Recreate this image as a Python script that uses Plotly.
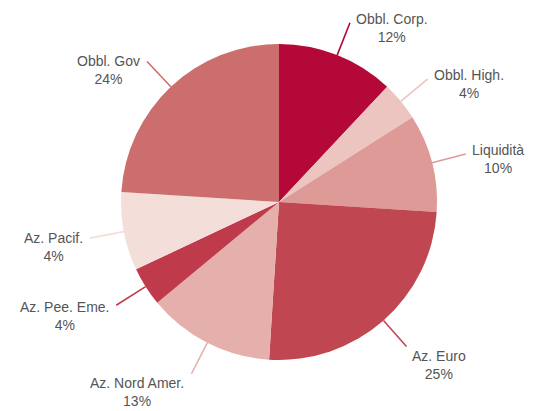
import math
import plotly.graph_objects as go

labels = ["Obbl. Corp.", "Obbl. High.", "Liquidità", "Az. Euro", "Az. Nord Amer.",
          "Az. Pee. Eme.", "Az. Pacif.", "Obbl. Gov"]
values = [12, 4, 10, 25, 13, 4, 8, 24]
pct_text = ["12%", "4%", "10%", "25%", "13%", "4%", "4%", "24%"]
colors = ["#B30838", "#ECC5C0", "#DE9A96", "#C04652", "#E5B0AC",
          "#BF3B4C", "#F4DEDA", "#CC6E6E"]

W, H = 533, 411
CX, CY, R = 279, 202, 158


def ent(s):
    return "".join(ch if ord(ch) < 128 else f"&#{ord(ch)};" for ch in s)


fig = go.Figure(go.Pie(
    labels=labels, values=values, sort=False, direction="clockwise", rotation=0,
    marker=dict(colors=colors, line=dict(width=0)),
    textinfo="none", hoverinfo="label+percent",
    domain=dict(x=[(CX - R) / W, (CX + R) / W], y=[(H - CY - R) / H, (H - CY + R) / H]),
    showlegend=False,
))

total = sum(values)
cum = 0
shapes, annotations = [], []
for lab, v, t, c in zip(labels, values, pct_text, colors):
    mid = (cum + v / 2) / total * 2 * math.pi
    cum += v
    s, co = math.sin(mid), math.cos(mid)
    x0, y0 = CX + R * s, CY - R * co
    x1, y1 = CX + R * 1.22 * s, CY - R * 1.22 * co
    shapes.append(dict(type="line", xref="paper", yref="paper",
                       x0=x0 / W, y0=1 - y0 / H, x1=x1 / W, y1=1 - y1 / H,
                       line=dict(color=c, width=1.6)))
    off = -4 + 13.5 * min(1.0, max(0.0, (-co - 0.5) / 0.25))
    if s < 0 and co > -0.7:
        off += 4
    top = y1 + off - 10
    annotations.append(dict(
        xref="paper", yref="paper", x=x1 / W, y=1 - top / H,
        text=f"{ent(lab)}<br>{t}", showarrow=False, align="center",
        xanchor="left" if s > 0 else "right", yanchor="top",
        xshift=4 if s > 0 else -5,
        font=dict(family="Liberation Sans, Arial, sans-serif", size=14, color="#555555"),
    ))

fig.update_layout(
    width=W, height=H, margin=dict(l=0, r=0, t=0, b=0),
    paper_bgcolor="white", plot_bgcolor="white",
    shapes=shapes, annotations=annotations,
)
fig.write_html("out.html", config={"displayModeBar": False},
               post_script="document.body.style.margin='0';")
